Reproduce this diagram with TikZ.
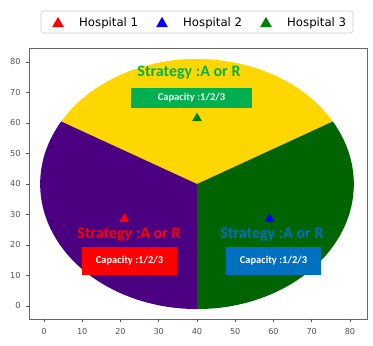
\documentclass[tikz,border=0pt]{standalone}
\usepackage{fontspec}
\newfontfamily\calfont{Carlito}
\newfontfamily\dvfont{DejaVu Sans}
\usetikzlibrary{shapes.geometric,positioning}
\definecolor{sectgold}{HTML}{FFD700}
\definecolor{sectindigo}{HTML}{4B0082}
\definecolor{sectgreen}{HTML}{006400}
\definecolor{labgreen}{HTML}{00B050}
\definecolor{labred}{HTML}{FF0000}
\definecolor{labblue}{HTML}{0070C0}
\definecolor{markblue}{HTML}{0000FF}
\definecolor{markgreen}{HTML}{008000}
\definecolor{tickgray}{HTML}{555555}

\begin{document}
\begin{tikzpicture}[
    x=1pt, y=1pt,
    strat/.style={inner sep=0pt, font=\calfont\bfseries\fontsize{16}{18}\selectfont},
    capbox/.style={rectangle, minimum width=95pt, minimum height=28pt, inner sep=0pt, text=white, font=\calfont\bfseries\fontsize{10.5}{12}\selectfont},
    hmark/.style={regular polygon, regular polygon sides=3, minimum size=11.5pt, inner sep=0pt, fill=#1, yshift=-1.4pt},
    legmark/.style={regular polygon, regular polygon sides=3, minimum size=13.5pt, inner sep=0pt, fill=#1, yshift=-1.7pt},
    legtext/.style={inner sep=0pt, font=\dvfont\fontsize{11.7}{14}\selectfont},
    ticklab/.style={inner sep=0pt, text=tickgray, font=\dvfont\fontsize{8.2}{10}\selectfont},
    tickmark/.style={draw=tickgray, line width=0.7pt},
    frame/.style={draw=black!60, line width=0.8pt},
]
\fill[white] (0,0) rectangle (373,346);
\useasboundingbox (0,0) rectangle (373,346);
% pie in data coordinates
\begin{scope}[shift={(44,40)}, x=3.825pt, y=3.05pt]
\coordinate (ctr) at (40,40);
\fill[sectgold] (ctr) -- ++(30:41) arc[start angle=30, end angle=150, radius=41] -- cycle;
\fill[sectindigo] (ctr) -- ++(150:41) arc[start angle=150, end angle=270, radius=41] -- cycle;
\fill[sectgreen] (ctr) -- ++(270:41) arc[start angle=270, end angle=390, radius=41] -- cycle;
\node[hmark=labred] (h1pt) at (21,29) {};
\node[hmark=markblue] (h2pt) at (59,29) {};
\node[hmark=markgreen] (h3pt) at (40,62) {};
\draw[frame] (-3.92,-4.262) rectangle (84.44,84.43);
\foreach \k in {0,10,...,80} {
  \draw[tickmark] (\k,-4.262) -- ++(0,-3.5pt) node[ticklab, below=5.5pt] (xt\k) {\k};
  \draw[tickmark] (-3.92,\k) -- ++(-3.5pt,0) node[ticklab, left=4.5pt] (yt\k) {\k};
}
\end{scope}
% labels
\node[strat, text=labgreen] (strat3) at (189,273) {Strategy :A or R};
\node[capbox, fill=labgreen, minimum width=121pt, minimum height=20pt] (cap3) at (191.5,248) {Capacity :1/2/3};
\node[strat, text=labred] (strat1) at (129,111) {Strategy :A or R};
\node[capbox, fill=labred] (cap1) at (129.5,85) {Capacity :1/2/3};
\node[strat, text=labblue] (strat2) at (272,111) {Strategy :A or R};
\node[capbox, fill=labblue] (cap2) at (273.5,85) {Capacity :1/2/3};
% legend
\node[draw=black!20, fill=white, rounded corners=2.5pt, line width=0.6pt, minimum width=312pt, minimum height=22pt] (legend) at (197,324) {};
\node[legmark=labred] (lm1) at (58,324) {};
\node[legtext, right=21pt of lm1.center] (lt1) {Hospital 1};
\node[legmark=markblue] (lm2) at (162,324) {};
\node[legtext, right=21pt of lm2.center] (lt2) {Hospital 2};
\node[legmark=markgreen] (lm3) at (266,324) {};
\node[legtext, right=21pt of lm3.center] (lt3) {Hospital 3};
\end{tikzpicture}
\end{document}
